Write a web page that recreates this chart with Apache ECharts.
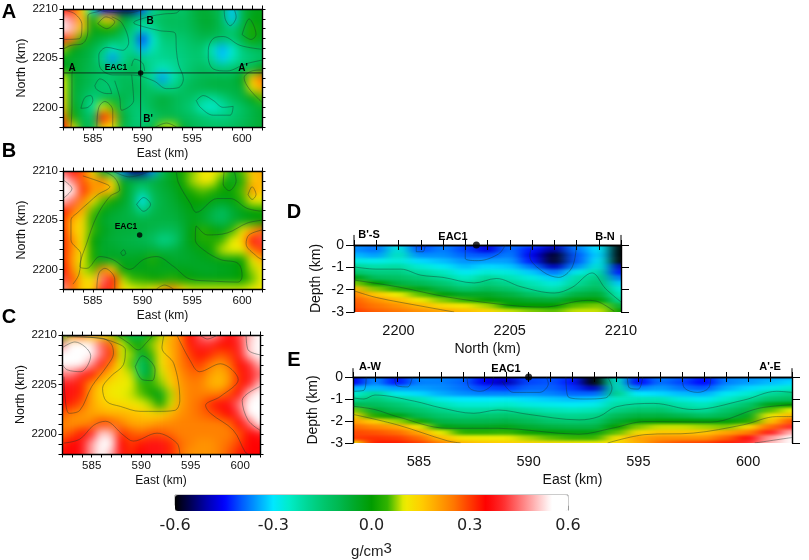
<!DOCTYPE html>
<html>
<head>
<meta charset="utf-8">
<style>
  html, body { margin: 0; padding: 0; background: #fff; }
  #page { position: relative; width: 809px; height: 560px; overflow: hidden; }
  .clip { position: absolute; overflow: hidden; }
  .heat { position: absolute; }
  #overlay { position: absolute; left: 0; top: 0; width: 809px; height: 560px; }
</style>
<script src="https://cdn.jsdelivr.net/npm/echarts@6/dist/echarts.min.js"></script>
</head>
<body>
<svg width="0" height="0" style="position:absolute">
  <filter id="softSection" x="0" y="0" width="100%" height="100%" color-interpolation-filters="sRGB">
    <feGaussianBlur stdDeviation="7.5 1.8"/>
  </filter>
  <filter id="softMap" x="0" y="0" width="100%" height="100%" color-interpolation-filters="sRGB">
    <feGaussianBlur stdDeviation="4.6 4.6"/>
  </filter>
</svg>
<div id="page"><div id="overlay"></div></div>
<script>
// grid nodes, km
const eastKm = [582, 583, 584, 585, 586, 587, 588, 589, 590, 591, 592, 593, 594, 595, 596, 597, 598, 599, 600, 601, 602];
const northDownKm = [2210, 2209, 2208, 2207, 2206, 2205, 2204, 2203, 2202, 2201, 2200, 2199, 2198];
const northKm = [2198, 2199, 2200, 2201, 2202, 2203, 2204, 2205, 2206, 2207, 2208, 2209, 2210];
const depthKm = [0, 0.25, 0.5, 0.75, 1, 1.25, 1.5, 1.75, 2, 2.25, 2.5, 2.75, 3];

// density contrast, in 0.01 g/cm3, rows run north to south
const sliceA = [
  [34, 30, 12, -28, -46, -50, -54, -54, -40, -20, -14, -12, -14, -9, -6, -8, -12, -32, -10, -4, -3],
  [52, 46, 18, -3, 12, 16, -4, -12, -16, -14, -12, -11, -12, -9, -6, -6, -12, -32, -10, -2, -2],
  [64, 50, 16, -3, 2, 2, -8, -16, -24, -20, -13, -12, -12, -10, -7, -7, -11, -16, -8, 3, -3],
  [38, 24, 4, -5, -8, -10, -14, -20, -42, -26, -16, -15, -15, -12, -10, -11, -14, -15, -8, 2, -4],
  [8, -2, -6, -9, -15, -24, -18, -20, -34, -23, -18, -17, -16, -14, -14, -24, -34, -26, -16, -12, -10],
  [-3, -6, -7, -10, -20, -36, -20, -13, -18, -19, -19, -18, -17, -15, -15, -20, -32, -24, -18, -16, -14],
  [-2, -5, -8, -11, -13, -15, -14, -10, -14, -20, -24, -21, -17, -14, -12, -14, -16, -15, -12, -9, -2],
  [10, -6, -8, -11, -14, -13, -11, -12, -14, -20, -36, -23, -16, -12, -10, -9, -9, -9, -3, 16, 26],
  [10, -6, -9, -12, -15, -16, -11, -10, -12, -14, -18, -17, -13, -10, -9, -8, -8, -8, -7, 12, 20],
  [14, -6, -11, -17, -12, -9, -9, -12, -13, -10, -7, -9, -12, -13, -18, -20, -16, -11, -8, -3, 6],
  [16, -4, -10, -22, 10, 6, -10, -15, -15, -10, -8, -10, -13, -16, -24, -26, -22, -17, -13, -9, -6],
  [26, 2, -10, -13, 34, 22, -6, -14, -17, -14, -10, -9, -11, -12, -14, -16, -17, -15, -12, -9, -6],
  [36, 12, -8, -12, 16, 10, -8, -14, -14, -8, 8, 9, -6, -10, -12, -13, -13, -12, -10, -8, -6]
];
const sliceB = [
  [44, 34, 28, 12, -5, -14, -36, -52, -52, -36, -12, -3, 2, 7, 10, 12, 9, -4, 6, 16, 20],
  [58, 46, 28, 20, 24, 12, -4, -8, -10, -8, -6, -3, 1, 8, 12, 10, 3, -4, 3, 16, 18],
  [66, 58, 32, 22, 20, 16, -2, -10, -18, -10, -7, -5, -1, 3, 6, 4, 1, 1, 6, 22, 16],
  [52, 44, 24, 12, 6, 1, -4, -10, -30, -12, -8, -6, -3, 0, 1, -2, -4, -2, 4, 10, 10],
  [34, 26, 18, 6, -2, -5, -7, -10, -18, -10, -8, -7, -5, -2, -4, -8, -12, -7, -3, -1, 1],
  [30, 18, 13, 3, -5, -7, -8, -8, -8, -8, -8, -8, -6, -3, -5, -9, -12, -7, -4, -2, -1],
  [32, 16, 13, 5, -3, -6, -7, -7, -8, -9, -11, -11, -8, -1, 4, 1, -3, 4, 12, 18, 26],
  [32, 22, 11, 0, -5, -7, -8, -9, -10, -12, -18, -16, -8, -1, 3, 3, 5, 10, 14, 36, 42],
  [32, 22, 12, 2, -6, -5, -7, -7, -7, -7, -9, -8, -6, -4, -2, 2, 9, 10, 10, 24, 30],
  [32, 20, 10, 2, -4, -4, -4, -4, -3, 3, -2, -5, -6, -5, -4, -3, -2, -2, 0, 10, 18],
  [36, 22, 9, 6, 24, 14, -1, -3, -3, -3, -4, -3, -3, -4, -5, -5, -4, -3, 0, 8, 12],
  [42, 28, 14, 12, 46, 34, 9, 5, 4, 1, 2, 4, 1, -1, -2, -2, -2, -2, 0, 6, 10],
  [48, 26, 14, 14, 40, 30, 12, 10, 9, 12, 18, 24, 14, 9, 9, 9, 9, 9, 9, 10, 12]
];
const sliceC = [
  [2, 22, 26, 18, 12, 8, -2, -10, -12, 0, 8, 18, 24, 35, 44, 50, 44, 36, 42, 50, 56],
  [46, 56, 60, 54, 44, 27, 10, 4, 2, 7, 14, 19, 24, 33, 40, 40, 34, 34, 40, 52, 60],
  [68, 72, 72, 58, 46, 32, 9, 8, -6, 4, 12, 18, 24, 30, 34, 32, 28, 30, 38, 52, 64],
  [66, 72, 68, 48, 38, 24, 11, 6, -14, -4, 12, 18, 24, 28, 30, 25, 21, 26, 34, 40, 50],
  [46, 46, 40, 34, 24, 17, 12, 9, -12, -5, 9, 16, 22, 26, 26, 21, 18, 22, 32, 38, 44],
  [38, 38, 32, 22, 16, 12, 11, 10, 5, 4, 7, 14, 21, 24, 24, 19, 17, 22, 32, 38, 50],
  [36, 37, 32, 20, 14, 11, 10, 9, 6, 1, -3, 8, 20, 24, 24, 24, 24, 29, 36, 52, 68],
  [34, 32, 28, 20, 16, 14, 13, 12, 10, 8, 0, 9, 20, 24, 26, 31, 36, 38, 46, 64, 74],
  [28, 24, 22, 20, 19, 18, 18, 17, 16, 14, 14, 18, 22, 24, 26, 28, 31, 35, 42, 58, 70],
  [24, 22, 22, 24, 30, 28, 24, 20, 19, 20, 22, 23, 24, 24, 24, 24, 24, 26, 35, 44, 60],
  [26, 28, 33, 38, 52, 50, 31, 28, 26, 28, 28, 26, 24, 24, 24, 24, 24, 24, 28, 35, 38],
  [31, 35, 37, 48, 62, 56, 35, 30, 33, 37, 37, 32, 26, 24, 22, 22, 24, 26, 30, 35, 35],
  [36, 35, 37, 48, 56, 50, 37, 32, 35, 37, 37, 32, 26, 22, 22, 22, 24, 28, 33, 35, 35]
];
// sections, rows run from surface to 3 km
const sectionD = [
  [-36, -38, -30, -42, -37, -41, -47, -38, -40, -46, -36, -30, -64],
  [-36, -38, -26, -40, -37, -41, -47, -38, -44, -52, -38, -30, -66],
  [-33, -35, -24, -36, -36, -39, -40, -37, -46, -58, -40, -31, -66],
  [-27, -28, -26, -31, -33, -36, -35, -35, -44, -58, -40, -29, -62],
  [-20, -22, -21, -26, -29, -33, -31, -32, -38, -50, -36, -26, -50],
  [-14, -17, -17, -21, -24, -29, -26, -27, -32, -38, -28, -21, -44],
  [-2, -12, -13, -16, -20, -25, -20, -23, -27, -32, -22, -17, -38],
  [7, 0, -8, -11, -15, -20, -16, -19, -23, -27, -20, -14, -32],
  [18, 7, 3, -3, -9, -14, -11, -14, -20, -23, -15, -11, -27],
  [24, 16, 10, 6, -1, -5, -5, -8, -13, -16, -8, -6, -24],
  [27, 22, 17, 11, 7, 4, 0, -3, -6, -7, -1, 0, -20],
  [28, 25, 22, 18, 13, 11, 8, 0, 0, 0, 6, 7, -8],
  [30, 27, 25, 22, 20, 17, 14, 9, 7, 6, 9, 9, 0]
];
const sectionE = [
  [-46, -36, -44, -36, -37, -38, -45, -47, -41, -40, -43, -60, -26, -44, -37, -40, -44, -37, -36, -35, -34],
  [-46, -36, -44, -37, -37, -39, -46, -50, -41, -40, -44, -62, -24, -45, -38, -41, -45, -37, -35, -33, -31],
  [-34, -33, -35, -35, -36, -38, -41, -42, -39, -39, -42, -50, -22, -37, -35, -38, -40, -34, -31, -28, -25],
  [-26, -20, -28, -31, -34, -36, -37, -37, -36, -37, -39, -39, -18, -30, -31, -33, -34, -29, -26, -20, -17],
  [-19, -16, -20, -23, -28, -30, -30, -29, -31, -32, -33, -32, -24, -23, -23, -27, -29, -25, -20, -14, -12],
  [-10, -12, -15, -19, -23, -26, -26, -25, -27, -28, -29, -28, -21, -20, -19, -22, -24, -19, -14, -3, 0],
  [7, -6, -11, -14, -18, -21, -21, -19, -21, -23, -24, -23, -17, -14, -14, -18, -20, -14, -9, 6, 10],
  [15, 3, -2, -10, -14, -16, -15, -14, -15, -18, -19, -18, -11, -8, -8, -10, -13, -10, -4, 11, 18],
  [21, 15, 8, 2, -9, -10, -10, -9, -11, -14, -15, -14, -6, -1, 0, 0, -1, -1, 3, 16, 28],
  [26, 23, 20, 11, -2, -4, -4, -3, -6, -8, -9, -9, 0, 7, 9, 9, 8, 7, 13, 26, 40],
  [29, 28, 26, 20, 10, 4, 4, 5, 1, -1, -2, -2, 6, 13, 16, 16, 16, 20, 24, 38, 50],
  [30, 31, 30, 26, 17, 11, 10, 10, 8, 6, 5, 5, 12, 20, 22, 22, 22, 27, 36, 48, 58],
  [10, 33, 33, 30, 24, 18, 16, 15, 14, 13, 12, 11, 13, 19, 26, 29, 30, 33, 40, 50, 62]
];

// contour lines, [km, km]
const contoursA = [
  [[585.1, 2210], [586.5, 2209.7], [588.5, 2209.6], [590.3, 2210]],
  [[586.9, 2209.2], [587.9, 2208.6], [588.6, 2206.6], [588, 2205.8], [586.4, 2206.1], [585.6, 2205.3], [585.7, 2204.1], [587, 2203.3], [588.9, 2203.3], [591.1, 2202.7], [592.4, 2201.9], [593.6, 2202], [594.1, 2202.9], [593.6, 2204.4], [593.4, 2205.8], [593.3, 2207.5], [591.7, 2207.8], [590.1, 2208.2], [589.1, 2208.6], [590.6, 2209.2], [592.2, 2209.5], [593.4, 2209.6], [593.8, 2210]],
  [[588.9, 2204.2], [589.2, 2204.9], [590, 2204.5], [590.2, 2203.7]],
  [[587.2, 2202.7], [587.7, 2201], [587.9, 2199.7], [589.1, 2200.7], [588.9, 2203.3]],
  [[602, 2205.9], [599.8, 2206.3], [598.1, 2207.2], [597.1, 2207], [596.6, 2205.8], [596.6, 2205.1], [597.1, 2203.9], [598.5, 2203.7], [600.3, 2204.4], [602, 2204.8]],
  [[595.4, 2200.7], [596.1, 2201.2], [597.1, 2200.7], [598.1, 2200], [599.1, 2200.1], [598.8, 2199.2], [597.1, 2199.2], [595.8, 2200], [595.4, 2200.7]],
  [[583.8, 2199.9], [584.2, 2201], [584.8, 2201.2], [585, 2200.7], [584.5, 2200], [583.8, 2199.9]],
  [[585.2, 2202.2], [585.7, 2202.9], [586.5, 2202.4], [586.9, 2201.4], [586.4, 2201.4], [585.4, 2201.8], [585.2, 2202.2]],
  [[598.2, 2210], [598.3, 2209], [598.8, 2208.3], [599.4, 2209.2], [599.2, 2210]],
  [[600, 2207.4], [600.7, 2209], [601.4, 2207.4], [600.9, 2206.9], [600, 2207.4]],
  [[582, 2206.9], [583.7, 2207], [583.9, 2208.4], [583.2, 2209.5], [582, 2209.9]],
  [[582, 2205.9], [582.8, 2206.3], [584, 2206.5], [584.5, 2207.7], [584.5, 2209.3], [585.7, 2209.8], [586, 2210]],
  [[585.5, 2208.5], [586.3, 2209.2], [587.2, 2208.7], [586.4, 2208], [585.5, 2208.5]],
  [[585.4, 2198], [585.6, 2200], [586.2, 2200.6], [587, 2199.7], [587, 2198]],
  [[582.8, 2198], [582.9, 2200], [582.9, 2203.4], [583.2, 2204.1]],
  [[602, 2203.8], [601, 2203.7], [600.2, 2203], [600.7, 2201.9], [602, 2200.5]],
  [[591.3, 2198], [592.4, 2198.4], [593.4, 2198]]
];
const contoursB = [
  [[593.4, 2210], [593.6, 2208.8], [594.8, 2206.7], [595.4, 2205.8], [597.5, 2207.2], [598.8, 2207.2], [600.5, 2206.2], [602, 2205.9]],
  [[602, 2205], [600.5, 2204.7], [598.5, 2203.7], [596.5, 2203.5], [595.4, 2204.4], [595.3, 2203], [596.1, 2202], [597.8, 2201], [599.6, 2200.6], [600, 2199.3], [599.6, 2198.7], [597.1, 2198.8], [594.8, 2199], [593.1, 2200.3], [591.4, 2201.3], [590.1, 2201], [588.7, 2200], [587, 2201], [585.7, 2201.3], [584.4, 2200.1], [583.7, 2200.3], [584.4, 2202.7], [585.4, 2205.4], [586.7, 2207.4], [587.7, 2208.1], [587.2, 2209.3], [586, 2210]],
  [[589.4, 2206.6], [590.1, 2207.3], [590.8, 2206.6], [590.1, 2205.9], [589.4, 2206.6]],
  [[582, 2209.1], [582.9, 2208.2], [582, 2207.2]],
  [[584, 2209.5], [586, 2208.8], [586.7, 2208.4], [585.5, 2207.6], [584.6, 2206.8], [583.5, 2205.8], [582.8, 2205], [582.8, 2203], [583.8, 2201.5], [583.6, 2199.5], [583, 2198.5]],
  [[600.6, 2207.6], [601, 2208.4], [601.4, 2207.6], [601, 2207.1], [600.6, 2207.6]],
  [[602, 2204], [600.7, 2203.5], [600.4, 2202.6], [601.5, 2201.3], [602, 2201]],
  [[585.4, 2198], [585.6, 2199.6], [586.2, 2200.1], [587.2, 2199], [587.2, 2198]],
  [[591.4, 2198], [592.2, 2198.4], [593.1, 2198]],
  [[587, 2210], [588.7, 2209.4], [590.8, 2210]],
  [[587.8, 2201.7], [588.1, 2202], [588.3, 2201.6], [588, 2201.4], [587.8, 2201.7]],
  [[598.2, 2210], [598.1, 2208.7], [598.7, 2208], [599.4, 2209], [599.2, 2210]]
];
const contoursC = [
  [[582.2, 2199.1], [583.8, 2199.5], [585.2, 2200.9], [586.4, 2201.3], [588.2, 2199.9], [589.2, 2199.3], [591.6, 2200.1], [593.6, 2199.1], [593.9, 2198]],
  [[582.2, 2205.8], [582.7, 2202.1], [583.8, 2202.4], [585, 2204.8], [586.5, 2206.8], [587.2, 2208.2], [586.9, 2209.2], [585.9, 2209.7], [582.5, 2209.8]],
  [[582, 2208.7], [583.3, 2209.3], [584.9, 2207.9], [583.9, 2206.3], [582.5, 2206.5], [582, 2207.1]],
  [[592.3, 2210], [592.1, 2208.7], [593.3, 2207.1], [593.9, 2203.4], [593.4, 2202.4], [591.6, 2202.3], [589.9, 2202.3], [587.9, 2202.8], [586.5, 2203.3], [586.1, 2204.6], [586.9, 2205.8], [588.2, 2207], [588.4, 2208.5], [587.2, 2209.3], [585.5, 2209.7], [582.2, 2209.9]],
  [[589.4, 2206.8], [590.1, 2207.9], [591.4, 2206.5], [591.1, 2205.4], [590.1, 2205.5], [589.4, 2206.8]],
  [[587.5, 2210], [588.7, 2209.2], [589.7, 2208.5], [590.5, 2209.2], [591.2, 2210]],
  [[593.6, 2210], [594.9, 2207.5], [595.9, 2206.3], [598, 2207.1], [599.8, 2205.5], [598, 2203.8], [596.5, 2202.9], [597, 2202.1], [599.3, 2200.4], [600.5, 2198.2], [600.8, 2198]],
  [[595.9, 2210], [596.7, 2209.6], [597.7, 2210]],
  [[600.6, 2210], [600.8, 2208.5], [602, 2208]],
  [[602, 2204.8], [600.2, 2203.4], [600.8, 2201.4], [602, 2200.4]]
];
const contoursD = [
  [[2198, -0.98], [2199, -1.08], [2200.1, -1.08], [2201, -1.35], [2202, -1.45], [2203.4, -1.7], [2204.4, -1.5], [2205.5, -1.87], [2207, -2.15], [2207.8, -1.9], [2208.7, -1.25], [2209.3, -1.95], [2210, -2.55]],
  [[2198, -1.57], [2200, -1.88], [2202.2, -2.33], [2205, -2.7], [2206.5, -2.78], [2208.5, -2.48], [2209, -2.55], [2209.7, -2.97]],
  [[2198, -2.05], [2199, -2.35], [2201.1, -2.75], [2202.5, -3]],
  [[2206, 0], [2205.9, -0.5], [2206.5, -1.2], [2207.2, -1.45], [2207.8, -1], [2208, 0]],
  [[2203, 0], [2203, -0.6], [2203.6, -0.7], [2204.5, -0.4], [2204.8, 0]],
  [[2200.8, 0], [2200.8, -0.3], [2201.1, -0.3], [2201.2, 0]]
];
const contoursE = [
  [[582, -0.95], [582.5, -1], [583, -0.82], [584.8, -1.1], [586, -1.4], [587.5, -1.65], [588.6, -1.5], [590, -1.7], [592.3, -1.95], [593.2, -1.8], [594, -1.35], [595.7, -1.2], [597.5, -1.48], [599.8, -1.05], [601.3, -0.65], [602, -0.7]],
  [[582, -1.33], [583, -1.48], [584, -1.8], [586.3, -2.33], [588.6, -2.33], [592.3, -2.6], [593.8, -2.33], [595.3, -2.03], [598.3, -2.05], [600.5, -1.42], [602, -1.26]],
  [[582, -1.7], [584, -2.17], [586.3, -2.9], [586.9, -3]],
  [[593.6, -3], [595.3, -2.62], [597.5, -2.55], [599.8, -2.17], [601.3, -1.8], [602, -1.8]],
  [[600.3, -3], [602, -2.75]],
  [[582, -0.65], [582.5, -0.6], [582.6, 0]],
  [[583.9, 0], [584, -0.4], [584.5, -0.45], [584.7, 0]],
  [[587.2, 0], [587.3, -0.5], [587.8, -0.65], [588.3, -0.4], [588.4, 0]],
  [[588.8, -0.2], [589.3, -0.7], [590.5, -0.7], [590.9, -0.3], [590.8, 0]],
  [[591.7, 0], [591.8, -0.9], [592.6, -1], [593.5, -0.95], [593.8, -0.5], [593.6, 0]],
  [[594.5, 0], [594.6, -0.5], [595, -0.55], [595.2, 0]],
  [[597, 0], [597.1, -0.5], [597.7, -0.7], [598.2, -0.5], [598.3, 0]]
];

const wellA = [[589.8, 2203.5]];
const wellB = [[589.7, 2203.5]];
const wellD = [[2203.5, 0]];
const wellE = [[590, 0]];
const profileEW = [[582, 2203.5], [602, 2203.5]];
const profileNS = [[589.8, 2198], [589.8, 2210]];
// short posts above the section frames
const postsD = [[[2198, 0], [2198, 0.45]], [[2210, 0], [2210, 0.45]]];
const postsE = [[[582, 0], [582, 0.4]], [[602, 0], [602, 0.4]]];

const barTicks = [-0.6, 0.6];
// colours every 0.05 g/cm3 from -0.6 to 0.6
const ramp = ['#000000', '#000059', '#0000b3', '#0000ff', '#0055ff', '#009eff', '#00e8ff', '#00ecc8', '#00d898', '#00c870',
  '#00b850', '#00a828', '#009c00', '#33b400', '#eeee00', '#ffcf00', '#ffa500', '#ff7800', '#ff3c00', '#ff0000',
  '#ff2a2a', '#ff7070', '#ffb8b8', '#ffffff', '#ffffff'];

// [text, x, y, size]
const notes = [
  ['A', 9, 12, 20], ['B', 9, 151, 20], ['C', 9, 317, 20], ['D', 294, 212, 20], ['E', 294, 360, 20],
  ['B', 150, 21, 10], ["B'", 148, 119, 10], ['A', 72, 68, 10], ["A'", 243, 68, 10], ['EAC1', 116, 68, 8.5],
  ['EAC1', 126, 227, 8.5],
  ["B'-S", 369, 235, 11], ['EAC1', 453, 237, 11], ['B-N', 605, 237, 11],
  ['A-W', 370, 367, 11], ['EAC1', 506, 369, 11], ["A'-E", 770, 367, 11]
];

const panels = [
  { rows: sliceA, x: eastKm, y: northDownKm, left: 63, top: 9, w: 199, h: 118, filter: 'url(#softMap)', xName: 'East (km)',
    yName: 'North (km)', lines: contoursA, well: wellA, extra: [profileEW, profileNS], posts: [] },
  { rows: sliceB, x: eastKm, y: northDownKm, left: 63, top: 171, w: 199, h: 118, filter: 'url(#softMap)', xName: 'East (km)',
    yName: 'North (km)', lines: contoursB, well: wellB, extra: [], posts: [] },
  { rows: sliceC, x: eastKm, y: northDownKm, left: 62, top: 335, w: 198, h: 119, filter: 'url(#softMap)', xName: 'East (km)',
    yName: 'North (km)', lines: contoursC, well: [], extra: [], posts: [] },
  { rows: sectionD, x: northKm, y: depthKm, left: 354, top: 245, w: 267, h: 67, filter: 'url(#softSection)', xName: 'North (km)',
    yName: 'Depth (km)', lines: contoursD, well: wellD, extra: [], posts: postsD, section: true },
  { rows: sectionE, x: eastKm, y: depthKm, left: 353, top: 377, w: 439, h: 66, filter: 'url(#softSection)', xName: 'East (km)',
    yName: 'Depth (km)', lines: contoursE, well: wellE, extra: [], posts: postsE, section: true }
];

var PAD = 3;
var font = '"Liberation Sans", Arial, sans-serif';
var page = document.getElementById('page');

// one blurred heatmap per panel, clipped to the plot rectangle
panels.forEach(function(p) {
    var nx = p.x.length, ny = p.y.length;
    var dx = p.w / (nx - 1), dy = p.h / (ny - 1);
    var clip = document.createElement('div');
    clip.className = 'clip';
    clip.style.cssText = 'left:' + p.left + 'px;top:' + p.top + 'px;width:' + p.w + 'px;height:' + p.h + 'px';
    var box = document.createElement('div');
    box.className = 'heat';
    box.style.cssText = 'left:' + (-dx * (PAD + 0.5)) + 'px;top:' + (-dy * (PAD + 0.5)) + 'px;width:' + (dx * (nx + 2 * PAD)) +
        'px;height:' + (dy * (ny + 2 * PAD)) + 'px;filter:' + p.filter;
    clip.appendChild(box);
    page.insertBefore(clip, page.firstChild);

    var cells = [], xCats = [], yCats = [];
    for (var i = -PAD; i < nx + PAD; i++) xCats.push(String(i));
    for (var j = -PAD; j < ny + PAD; j++) yCats.push(String(j));
    for (var r = -PAD; r < ny + PAD; r++) {
        for (var c = -PAD; c < nx + PAD; c++) {
            // edge nodes repeat past the clip so the blur does not fade at the frame
            var row = p.rows[Math.max(0, Math.min(ny - 1, r))];
            cells.push([c + PAD, r + PAD, row[Math.max(0, Math.min(nx - 1, c))]]);
        }
    }
    var heat = echarts.init(box);
    heat.setOption({
        animation: false,
        grid: { left: 0, right: 0, top: 0, bottom: 0 },
        xAxis: { type: 'category', data: xCats, show: false },
        yAxis: { type: 'category', data: yCats, show: false, inverse: true },
        visualMap: { show: false, min: -60, max: 60, dimension: 2, inRange: { color: ramp } },
        series: [{ type: 'heatmap', data: cells, progressive: 0 }]
    });
});

// axes, contours, labels and colour bar on top
var grids = [], xAxes = [], yAxes = [], series = [];
var axisLine = { lineStyle: { color: '#000', width: 1.4 } };

panels.forEach(function(p, g) {
    grids.push({ left: p.left, top: p.top, width: p.w, height: p.h });
    var xMin = Math.min.apply(null, p.x), xMax = Math.max.apply(null, p.x);
    var tickX = { length: p.section ? 5 : 3.5, lineStyle: { color: '#000', width: 1 } };
    var tickY = { length: p.section ? 8 : 3.5, lineStyle: { color: '#000', width: 1 } };
    var yOpt = p.section ? { min: -3, max: 0 } : { min: 2198, max: 2210 };
    var each5 = function(v) { return v % 5 === 0 ? String(v) : ''; };
    xAxes.push({
        gridIndex: g, type: 'value', min: xMin, max: xMax, interval: 1, position: 'bottom', splitLine: { show: false },
        axisLine: axisLine, axisTick: tickX,
        axisLabel: { formatter: each5, color: '#111', fontFamily: font, fontSize: p.section ? 14.5 : 11.5, margin: p.section ? 11 : 6 },
        name: p.xName, nameLocation: 'middle', nameGap: p.section ? 30 : 21,
        nameTextStyle: { color: '#111', fontFamily: font, fontSize: p.section ? 14 : 12 }
    });
    xAxes.push({
        gridIndex: g, type: 'value', min: xMin, max: xMax, interval: 1, position: 'top', splitLine: { show: false },
        axisLine: axisLine, axisTick: tickX, axisLabel: { show: false }
    });
    yAxes.push({
        gridIndex: g, type: 'value', min: yOpt.min, max: yOpt.max, interval: 1, position: 'left', splitLine: { show: false },
        axisLine: axisLine, axisTick: tickY,
        axisLabel: { formatter: p.section ? function(v) { return String(v); } : each5, color: '#111', fontFamily: font, fontSize: p.section ? 14 : 11.5, margin: p.section ? 10 : 5 },
        name: p.yName, nameLocation: 'middle', nameGap: p.section ? 31 : 31,
        nameTextStyle: { color: '#111', fontFamily: font, fontSize: p.section ? 14 : 12.5 }
    });
    yAxes.push({
        gridIndex: g, type: 'value', min: yOpt.min, max: yOpt.max, interval: 1, position: 'right', splitLine: { show: false },
        axisLine: axisLine, axisTick: tickY, axisLabel: { show: false }
    });
    var xi = g * 2, yi = g * 2;
    p.lines.forEach(function(line) {
        series.push({
            type: 'line', xAxisIndex: xi, yAxisIndex: yi, data: line, smooth: 0.35, showSymbol: false, silent: true,
            lineStyle: { color: 'rgba(25,50,45,0.6)', width: 0.7 }
        });
    });
    p.extra.forEach(function(line) {
        series.push({
            type: 'line', xAxisIndex: xi, yAxisIndex: yi, data: line, showSymbol: false, silent: true,
            lineStyle: { color: '#111', width: 0.8 }
        });
    });
    p.posts.forEach(function(line) {
        series.push({
            type: 'line', xAxisIndex: xi, yAxisIndex: yi, data: line, showSymbol: false, silent: true, clip: false,
            lineStyle: { color: '#000', width: 1 }
        });
    });
    if (p.well.length) {
        series.push({
            type: 'scatter', xAxisIndex: xi, yAxisIndex: yi, data: p.well, symbolSize: p.section ? 7 : 5.5, clip: false, z: 5,
            itemStyle: { color: '#000' }
        });
    }
});

// colour bar axis
grids.push({ left: 175, top: 495, width: 393, height: 16, show: true, borderColor: '#999', borderWidth: 1 });
xAxes.push({
    gridIndex: 5, type: 'value', min: barTicks[0], max: barTicks[1], interval: 0.3, splitLine: { show: false },
    axisLine: { show: false }, axisTick: { length: 5, lineStyle: { color: '#999' } },
    axisLabel: { formatter: function(v) { return v.toFixed(1); }, color: '#222', fontFamily: '"DejaVu Sans"', fontSize: 16, margin: 12 },
    name: 'g/cm{s|3}', nameLocation: 'middle', nameGap: 36,
    nameTextStyle: { color: '#222', fontFamily: font, fontSize: 15, rich: { s: { fontFamily: font, fontSize: 15, color: '#222', verticalAlign: 'bottom', padding: [0, 0, 5, 0] } } }
});
yAxes.push({ gridIndex: 5, type: 'value', show: false, min: 0, max: 1 });

var overlay = echarts.init(document.getElementById('overlay'));
overlay.setOption({
    animation: false,
    backgroundColor: 'transparent',
    grid: grids,
    xAxis: xAxes,
    yAxis: yAxes,
    visualMap: {
        show: true, seriesIndex: [], min: -60, max: 60, orient: 'horizontal', left: 175, top: 495, padding: 0,
        itemWidth: 16, itemHeight: 393, calculable: false, hoverLink: false, text: null,
        inRange: { color: ramp }
    },
    graphic: notes.map(function(n) {
        return {
            type: 'text', x: n[1], y: n[2], silent: true, z: 20,
            style: { text: n[0], font: 'bold ' + n[3] + 'px ' + font, fill: '#000', align: 'center', verticalAlign: 'middle' }
        };
    }),
    series: series
});
</script>
</body>
</html>
